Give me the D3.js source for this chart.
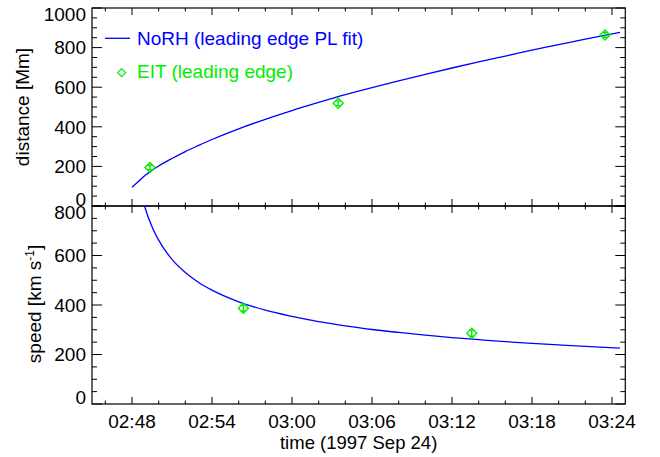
<!DOCTYPE html>
<html><head><meta charset="utf-8">
<script src="https://cdn.jsdelivr.net/npm/d3@7"></script>
<style>
body{margin:0;background:#fff;}
svg{display:block;font-family:"Liberation Sans",Arial,sans-serif;}
</style></head>
<body><svg id="chart" width="660" height="457"></svg>
<script>
// ---- data ----
const timeDomain = ["02:45:00", "03:25:00"];
const fitTimes = ["02:48:00","02:48:30","02:49:00","02:49:30","02:50:00","02:51:00","02:52:00","02:53:00","02:54:00","02:56:00","02:58:00","03:00:00","03:02:00","03:04:00","03:06:00","03:08:00","03:10:00","03:12:00","03:14:00","03:16:00","03:18:00","03:20:00","03:22:00","03:24:36"];
const fitDistance = [95,125,155,180,202,240,275,306,336,390,438,482,523,562,598,632,665,697,728,757,787,815,843,877];
const fitSpeed = [1082,898,790,716,662,584,531,491,460,413,379,354,333,316,301,289,278,268,260,252,245,239,233,226];
const eitDistTimes = ["02:49:21","03:03:28","03:23:29"];
const eitDistance = [195,519,864];
const eitDistErr = [12,12,12];
const eitSpeedTimes = ["02:56:21","03:13:29"];
const eitSpeed = [387,286];
const eitSpeedErr = [12,12];
const distTicks = [0,200,400,600,800,1000];
const speedTicks = [0,200,400,600,800];
const legendLabels = ["NoRH (leading edge PL fit)", "EIT (leading edge)"];

// ---- layout ----
const svg = d3.select("#chart");
const L = 92, R = 625.3;
const topP = {y0: 8, y1: 206};
const botP = {y0: 206, y1: 404};
const FONT = 19;
const BLUE = "#0000ff", GREEN = "#00ee00";

const parse = d3.timeParse("%H:%M:%S");
const x = d3.scaleTime().domain(timeDomain.map(parse)).range([L, R]);
const yD = d3.scaleLinear().domain([0, 1000]).range([topP.y1, topP.y0]);
const yS = d3.scaleLinear().domain([0, 800]).range([botP.y1, botP.y0]);

const majorX = x.ticks(d3.timeMinute.every(6));
const minorX = x.ticks(d3.timeMinute.every(2)).filter(t => t.getMinutes() % 6 !== 0);
const fmt = d3.timeFormat("%H:%M");

function panel(p, y, ticks, minorStep, id) {
  const g = svg.append("g");
  svg.append("clipPath").attr("id", id).append("rect")
    .attr("x", L).attr("y", p.y0).attr("width", R - L).attr("height", p.y1 - p.y0);
  g.selectAll(null).data(majorX).join("line")
    .attr("x1", d => x(d)).attr("x2", d => x(d)).attr("y1", p.y1).attr("y2", p.y1 - 7);
  g.selectAll(null).data(majorX).join("line")
    .attr("x1", d => x(d)).attr("x2", d => x(d)).attr("y1", p.y0).attr("y2", p.y0 + 7);
  g.selectAll(null).data(minorX).join("line")
    .attr("x1", d => x(d)).attr("x2", d => x(d)).attr("y1", p.y1).attr("y2", p.y1 - 3.5);
  g.selectAll(null).data(minorX).join("line")
    .attr("x1", d => x(d)).attr("x2", d => x(d)).attr("y1", p.y0).attr("y2", p.y0 + 3.5);
  const minorY = d3.range(y.domain()[0], y.domain()[1] + 1, minorStep).filter(v => !ticks.includes(v));
  [L, R].forEach((xx, i) => {
    const s = i === 0 ? 1 : -1;
    g.selectAll(null).data(ticks).join("line")
      .attr("x1", xx).attr("x2", xx + s * 10).attr("y1", d => y(d)).attr("y2", d => y(d));
    g.selectAll(null).data(minorY).join("line")
      .attr("x1", xx).attr("x2", xx + s * 5).attr("y1", d => y(d)).attr("y2", d => y(d));
  });
  g.selectAll("line").attr("stroke", "#000").attr("stroke-width", 1);
  g.append("rect").attr("x", L).attr("y", p.y0).attr("width", R - L).attr("height", p.y1 - p.y0)
    .attr("fill", "none").attr("stroke", "#000").attr("stroke-width", 1.2);
  const n = ticks.length;
  g.selectAll(null).data(ticks).join("text")
    .attr("x", L - 6)
    .attr("y", (d, i) => i === 0 ? y(d) - 0.5 : (i === n - 1 ? y(d) + 13 : y(d) + 6.7))
    .attr("text-anchor", "end").attr("font-size", FONT).attr("fill", "#000")
    .text(d => d);
}

panel(topP, yD, distTicks, 50, "clipTop");
panel(botP, yS, speedTicks, 50, "clipBot");

// x tick labels
svg.append("g").selectAll("text").data(majorX).join("text")
  .attr("x", d => x(d)).attr("y", 427.5).attr("text-anchor", "middle")
  .attr("font-size", FONT).text(d => fmt(d));
svg.append("text").attr("x", (L + R) / 2).attr("y", 448.5).attr("text-anchor", "middle")
  .attr("font-size", 18.5).text("time (1997 Sep 24)");

// y axis titles
svg.append("text").attr("transform", `translate(29,${(topP.y0 + topP.y1) / 2}) rotate(-90)`)
  .attr("text-anchor", "middle").attr("font-size", FONT).text("distance [Mm]");
const st = svg.append("text").attr("transform", `translate(41,${(botP.y0 + botP.y1) / 2 - 1}) rotate(-90)`)
  .attr("text-anchor", "middle").attr("font-size", FONT);
st.append("tspan").text("speed [km s");
st.append("tspan").attr("font-size", 12).attr("dy", -7).text("-1");
st.append("tspan").attr("dy", 7).text("]");

// curves
const fitD = fitTimes.map((t, i) => ({t: parse(t), v: fitDistance[i]}));
const fitV = fitTimes.map((t, i) => ({t: parse(t), v: fitSpeed[i]}));
svg.append("path").datum(fitD).attr("clip-path", "url(#clipTop)")
  .attr("d", d3.line().x(d => x(d.t)).y(d => yD(d.v)).curve(d3.curveMonotoneX))
  .attr("fill", "none").attr("stroke", BLUE).attr("stroke-width", 1.3);
svg.append("path").datum(fitV).attr("clip-path", "url(#clipBot)")
  .attr("d", d3.line().x(d => x(d.t)).y(d => yS(d.v)).curve(d3.curveMonotoneX))
  .attr("fill", "none").attr("stroke", BLUE).attr("stroke-width", 1.3);

// EIT points
function diamonds(times, vals, errs, y) {
  const data = times.map((t, i) => ({t: parse(t), v: vals[i], e: errs[i]}));
  const g = svg.append("g").attr("stroke", GREEN).attr("fill", "none").attr("stroke-width", 1.4);
  g.selectAll("path.dm").data(data).join("path").attr("class", "dm")
    .attr("d", d => { const cx = x(d.t), cy = y(d.v), r = 5;
      return `M${cx - r},${cy}L${cx},${cy - r}L${cx + r},${cy}L${cx},${cy + r}Z`; });
  g.selectAll("path.eb").data(data).join("path").attr("class", "eb")
    .attr("d", d => { const cx = x(d.t), a = y(d.v + d.e), b = y(d.v - d.e);
      return `M${cx},${a}L${cx},${b}M${cx - 2.5},${a}L${cx + 2.5},${a}M${cx - 2.5},${b}L${cx + 2.5},${b}`; });
}
diamonds(eitDistTimes, eitDistance, eitDistErr, yD);
diamonds(eitSpeedTimes, eitSpeed, eitSpeedErr, yS);

// legend
svg.append("line").attr("x1", 105).attr("x2", 130).attr("y1", 38.3).attr("y2", 38.3)
  .attr("stroke", BLUE).attr("stroke-width", 1.3);
svg.append("text").attr("x", 137).attr("y", 45).attr("font-size", FONT).attr("fill", BLUE).text(legendLabels[0]);
svg.append("path").attr("d", "M117.7,72.7L121.7,68.7L125.7,72.7L121.7,76.7Z")
  .attr("fill", "none").attr("stroke", GREEN).attr("stroke-width", 1.2);
svg.append("text").attr("x", 137).attr("y", 78.3).attr("font-size", FONT).attr("fill", GREEN).text(legendLabels[1]);
</script></body></html>
